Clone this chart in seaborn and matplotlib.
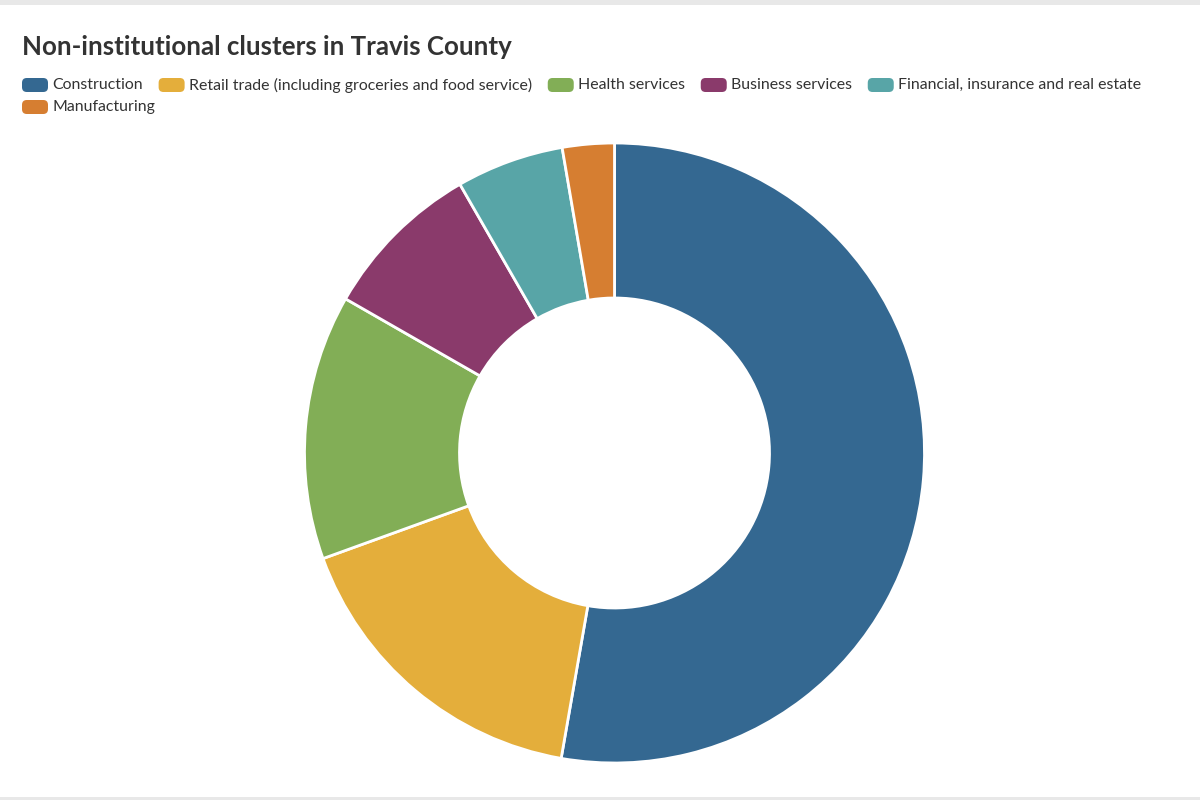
import matplotlib
matplotlib.use("Agg")
import matplotlib.pyplot as plt
from matplotlib.patches import FancyBboxPatch, Rectangle
import seaborn as sns

categories = ["Construction", "Retail trade (including groceries and food service)",
              "Health services", "Business services",
              "Financial, insurance and real estate", "Manufacturing"]
values = [52.7, 16.7, 13.8, 8.4, 5.6, 2.7]
colors = ["#346891", "#e4ae3b", "#82ae56", "#8a3a6b", "#58a5a7", "#d67e31"]

sns.set_theme(style="white")
plt.rcParams['font.family'] = ['Lato', 'DejaVu Sans']

W, H = 1200, 800
fig = plt.figure(figsize=(12, 8), dpi=100)
fig.patch.set_facecolor("white")

# top/bottom light gray bands
fig.add_artist(Rectangle((0, 1 - 5 / H), 1, 5 / H, transform=fig.transFigure,
                         color="#e8e8e8", lw=0))
fig.add_artist(Rectangle((0, 0), 1, 3 / H, transform=fig.transFigure,
                         color="#e8e8e8", lw=0))

cx, cy, R = 614.5, 453, 310
ax = fig.add_axes([(cx - R) / W, (H - cy - R) / H, 2 * R / W, 2 * R / H])
ax.pie(values, colors=colors, startangle=90, counterclock=False,
       wedgeprops=dict(width=0.5, edgecolor="white", linewidth=2))
ax.set_aspect("equal")
ax.set_xlim(-1, 1)
ax.set_ylim(-1, 1)
ax.axis("off")

fig.text(22 / W, 1 - 47 / H, "Non-institutional clusters in Travis County",
         fontsize=18.6, fontweight="bold", color="#333333", va="center", ha="left")

# legend drawn manually, wrapping like the reference
renderer = fig.canvas.get_renderer()
x = 22
row_y = [85, 107]
row = 0
max_x = 1180
for cat, col in zip(categories, colors):
    t = fig.text(0, 0, cat, fontsize=11.4, color="#333333", va="center", ha="left")
    tw = t.get_window_extent(renderer).width
    item_w = 30 + tw
    if x + item_w > max_x and x > 22:
        row += 1
        x = 22
    y = row_y[row]
    sw = FancyBboxPatch(((x) / W, (H - y - 7) / H), 26 / W, 14 / H,
                        boxstyle="round,pad=0,rounding_size=0.004",
                        transform=fig.transFigure, facecolor=col,
                        edgecolor="none", mutation_aspect=W / H)
    fig.add_artist(sw)
    t.set_position(((x + 30) / W, (H - y) / H))
    x += item_w + 16

fig.savefig("out.png", dpi=100, facecolor="white")
